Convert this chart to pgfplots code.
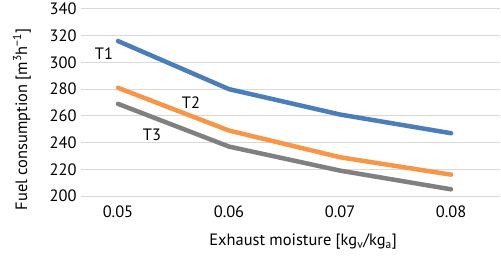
\documentclass[border=0pt]{standalone}
\usepackage{pgfplots}
\pgfplotsset{compat=1.18}
\usepackage{fontspec}
\setmainfont{PT Sans}
\definecolor{tone}{RGB}{74,126,187}
\definecolor{ttwo}{RGB}{247,150,70}
\definecolor{tthree}{RGB}{128,128,128}
\definecolor{gridc}{RGB}{217,217,217}
\begin{document}
\begin{tikzpicture}[x=1bp,y=1bp]
\path[use as bounding box] (0,0) rectangle (501,257);
\begin{axis}[
  at={(81bp,61bp)}, anchor=south west,
  scale only axis, width=419bp, height=187bp,
  xmin=0.04667, xmax=0.08441, ymin=200, ymax=340,
  xtick={0.05,0.06,0.07,0.08},
  xticklabels={0.05,0.06,0.07,0.08},
  scaled x ticks=false,
  ytick={200,220,...,340},
  ymajorgrids, grid style={gridc, line width=1bp},
  axis line style={draw=none},
  major tick length=0pt,
  tick label style={font=\fontsize{16.5}{18}\selectfont},
  /pgf/number format/assume math mode=true,
  yticklabel style={xshift=-1bp},
  xticklabel style={yshift=-6bp},
  xlabel={Exhaust moisture [kg\textsubscript{v}/kg\textsubscript{a}]},
  ylabel={Fuel consumption [m\textsuperscript{3}h\textsuperscript{−1}]},
  label style={font=\fontsize{16.5}{18}\selectfont},
  xlabel style={at={(rel axis cs:0.53,-0.246)}, anchor=center},
  ylabel style={at={(rel axis cs:-0.141,0.41)}, anchor=center},
  clip=false,
]
\addplot[tone, line width=4.5bp, line cap=round, line join=round] coordinates {(0.05,316) (0.06,280) (0.07,261) (0.08,247)};
\addplot[ttwo, line width=4.5bp, line cap=round, line join=round] coordinates {(0.05,281) (0.06,249) (0.07,229) (0.08,216)};
\addplot[tthree, line width=4.5bp, line cap=round, line join=round] coordinates {(0.05,269) (0.06,237) (0.07,219) (0.08,205)};
\node[font=\fontsize{16.5}{18}\selectfont] at (axis cs:0.04874,306.5) {T1};
\node[font=\fontsize{16.5}{18}\selectfont] at (axis cs:0.05658,270) {T2};
\node[font=\fontsize{16.5}{18}\selectfont] at (axis cs:0.05306,246) {T3};
\end{axis}
\end{tikzpicture}
\end{document}
